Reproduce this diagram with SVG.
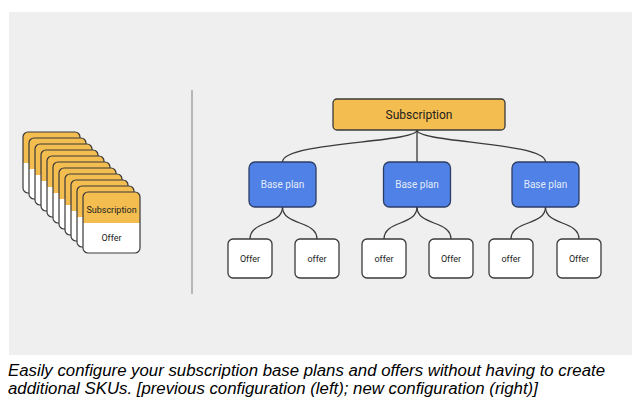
<svg xmlns="http://www.w3.org/2000/svg" width="640" height="407" viewBox="0 0 640 407">
<defs>
<style>
.bg{fill:#efefef}
.sub{fill:#f4bd4f;stroke:#3a3a3a;stroke-width:1.3}
.base{fill:#4f81e6;stroke:#2c3e66;stroke-width:1.3}
.offer{fill:#ffffff;stroke:#3a3a3a;stroke-width:1.3}
.conn{fill:none;stroke:#3a3a3a;stroke-width:1.3}
.t{font-family:Roboto,"Liberation Sans",sans-serif;text-anchor:middle;dominant-baseline:central}
.dark{fill:#222}
.light{fill:#e3ebfb}
.cap{font-family:"Liberation Sans",Arial,sans-serif;font-style:italic;font-size:16.8px;fill:#000}
</style>
<g id="card">
<path d="M0,5 Q0,0 5,0 L52,0 Q57,0 57,5 L57,31 L0,31 Z" fill="#f4bd4f"/>
<path d="M0,31 L57,31 L57,56 Q57,61 52,61 L5,61 Q0,61 0,56 Z" fill="#ffffff"/>
<rect x="0" y="0" width="57" height="61" rx="5" fill="none" stroke="#3a3a3a" stroke-width="1.2"/>
</g>
</defs>
<rect class="bg" x="9" y="12" width="623" height="343"/>
<g id="stack">
<use href="#card" x="23" y="132"/>
<use href="#card" x="29" y="138"/>
<use href="#card" x="35" y="144"/>
<use href="#card" x="41" y="150"/>
<use href="#card" x="47" y="156"/>
<use href="#card" x="53" y="162"/>
<use href="#card" x="59" y="168"/>
<use href="#card" x="65" y="174"/>
<use href="#card" x="71" y="180"/>
<use href="#card" x="77" y="186"/>
<use href="#card" x="83" y="192"/>
<text class="t dark" x="111.5" y="210" font-size="9">Subscription</text>
<text class="t dark" x="111.5" y="238" font-size="9">Offer</text>
</g>
<line id="divider" x1="192" y1="90" x2="192" y2="294" stroke="#999" stroke-width="1.3"/>
<g id="connectors">
<path class="conn" d="M417,130 C417,143 282.5,142 282.5,162"/>
<path class="conn" d="M417,130 L417,162"/>
<path class="conn" d="M417,130 C417,143 545.5,142 545.5,162"/>
<path class="conn" d="M282.5,207 C282.5,226 250,220 250,239"/>
<path class="conn" d="M282.5,207 C282.5,226 317,220 317,239"/>
<path class="conn" d="M417,207 C417,226 384,220 384,239"/>
<path class="conn" d="M417,207 C417,226 451,220 451,239"/>
<path class="conn" d="M545.5,207 C545.5,226 511,220 511,239"/>
<path class="conn" d="M545.5,207 C545.5,226 579,220 579,239"/>
</g>
<g id="subscription">
<rect class="sub" x="333" y="99" width="172" height="31" rx="4"/>
<text class="t dark" x="419" y="114.5" font-size="12">Subscription</text>
</g>
<g id="base1">
<rect class="base" x="249" y="162" width="67" height="45" rx="6"/>
<text class="t light" x="282.5" y="184.5" font-size="10">Base plan</text>
</g>
<g id="base2">
<rect class="base" x="383.5" y="162" width="67" height="45" rx="6"/>
<text class="t light" x="417" y="184.5" font-size="10">Base plan</text>
</g>
<g id="base3">
<rect class="base" x="512" y="162" width="67" height="45" rx="6"/>
<text class="t light" x="545.5" y="184.5" font-size="10">Base plan</text>
</g>
<g id="offer1">
<rect class="offer" x="228" y="239" width="44" height="39" rx="5"/>
<text class="t dark" x="250" y="258.5" font-size="9">Offer</text>
</g>
<g id="offer2">
<rect class="offer" x="295" y="239" width="44" height="39" rx="5"/>
<text class="t dark" x="317" y="258.5" font-size="9">offer</text>
</g>
<g id="offer3">
<rect class="offer" x="362" y="239" width="44" height="39" rx="5"/>
<text class="t dark" x="384" y="258.5" font-size="9">offer</text>
</g>
<g id="offer4">
<rect class="offer" x="429" y="239" width="44" height="39" rx="5"/>
<text class="t dark" x="451" y="258.5" font-size="9">Offer</text>
</g>
<g id="offer5">
<rect class="offer" x="489" y="239" width="44" height="39" rx="5"/>
<text class="t dark" x="511" y="258.5" font-size="9">offer</text>
</g>
<g id="offer6">
<rect class="offer" x="557" y="239" width="44" height="39" rx="5"/>
<text class="t dark" x="579" y="258.5" font-size="9">Offer</text>
</g>
<g id="caption">
<text class="cap" x="8" y="376">Easily configure your subscription base plans and offers without having to create</text>
<text class="cap" x="8" y="394">additional SKUs. [previous configuration (left); new configuration (right)]</text>
</g>
</svg>
